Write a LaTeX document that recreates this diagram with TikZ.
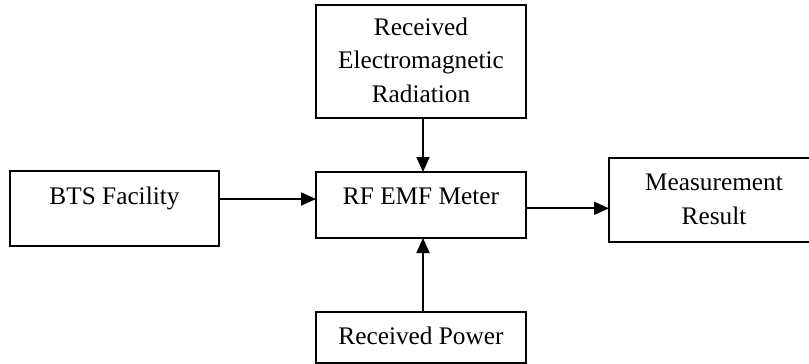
\documentclass[tikz,border=0pt]{standalone}
\usepackage{fontspec}
\setmainfont{Liberation Serif}
\usetikzlibrary{arrows.meta}
\begin{document}
\begin{tikzpicture}[x=1pt,y=-1pt,
  box/.style={draw, line width=1.8pt, inner sep=0, outer sep=0},
  lbl/.style={anchor=base, align=center, inner sep=0, font=\fontsize{25.3}{33.5}\selectfont},
  conn/.style={line width=1.8pt, -{Triangle[length=15pt,width=13pt]}}]
\useasboundingbox (0,0) rectangle (809,364);
\clip (0,0) rectangle (809,364);
\node[box, minimum width=209pt, minimum height=75pt] (bts) at (114.5,208.5) {};
\node[box, minimum width=210pt, minimum height=66pt] (rf) at (421,205) {};
\node[box, minimum width=210pt, minimum height=113pt] (rad) at (421,61.5) {};
\node[box, minimum width=210pt, minimum height=84pt] (mr) at (714,200) {};
\node[box, minimum width=210pt, minimum height=51pt] (rp) at (421,337.5) {};
\node[lbl] (btst) at (114.5,204) {BTS Facility};
\node[lbl] (rft) at (421,204) {RF EMF Meter};
\node[lbl] (radt) at (421,102) {Received\\Electromagnetic\\Radiation};
\node[lbl] (mrt) at (714,224) {Measurement\\Result};
\node[lbl] (rpt) at (421,344) {Received Power};
\coordinate (a1) at ([yshift=9.5pt]bts.east);
\draw[conn] (a1) -- (a1 -| rf.west);
\coordinate (a2) at ([yshift=-3.3pt]rf.east);
\draw[conn] (a2) -- (a2 -| mr.west);
\draw[conn] ([xshift=2pt]rad.south) -- ([xshift=2pt]rf.north);
\draw[conn] ([xshift=2pt]rp.north) -- ([xshift=2pt]rf.south);
\end{tikzpicture}
\end{document}
